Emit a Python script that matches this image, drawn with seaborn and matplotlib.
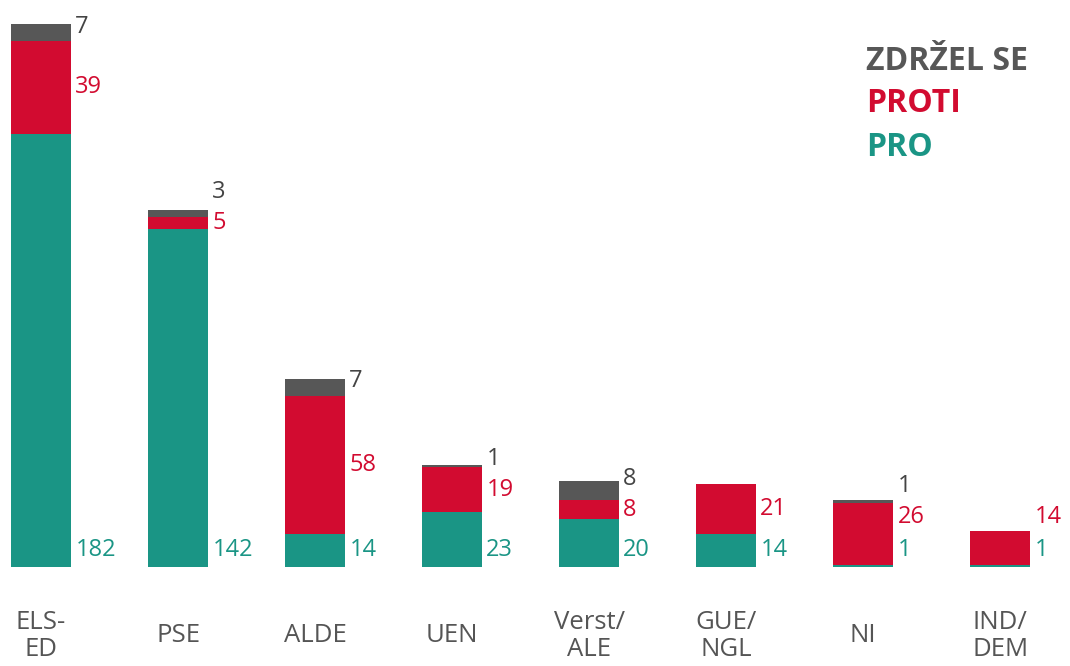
import matplotlib
matplotlib.use("Agg")
import matplotlib.pyplot as plt
import matplotlib.transforms as mtransforms
import numpy as np
import pandas as pd
import seaborn as sns

# data
groups = ["ELS-\nED", "PSE", "ALDE", "UEN", "Verst/\nALE", "GUE/\nNGL", "NI", "IND/\nDEM"]
pro = [182, 142, 14, 23, 20, 14, 1, 1]
proti = [39, 5, 58, 19, 8, 21, 26, 14]
zdrzel = [7, 3, 7, 1, 8, 0, 1, 0]

TEAL = "#1a9585"
RED = "#d20b30"
GRAY = "#575757"

sns.set_theme(style="white")
plt.rcParams["font.family"] = ["Open Sans", "DejaVu Sans"]

df = pd.DataFrame({"group": groups, "pro": pro, "proti": proti, "zdrzel": zdrzel})
df["pro_proti"] = df["pro"] + df["proti"]
df["total"] = df["pro_proti"] + df["zdrzel"]

fig = plt.figure(figsize=(10.7, 6.66), dpi=100)
ax = fig.add_axes([0, 99 / 666, 1, 567 / 666])

# stacked bars drawn as overlapping cumulative totals
for col, color in [("total", GRAY), ("pro_proti", RED), ("pro", TEAL)]:
    sns.barplot(data=df, x="group", y=col, color=color, width=0.44,
                saturation=1, ax=ax, linewidth=0)

ax.set_xlim(-0.3, 7.51)
ax.set_ylim(0, 238.2)
sns.despine(ax=ax, left=True, bottom=True)
ax.set_xlabel("")
ax.set_ylabel("")
ax.set_yticks([])
ax.tick_params(axis="x", length=0, pad=0)
ax.set_xticks(range(len(groups)))
ax.set_xticklabels([])

# category labels below bars
trans = mtransforms.blended_transform_factory(ax.transData, fig.transFigure)
for i, g in enumerate(groups):
    ax.text(i, 1 - 636 / 666, g, transform=trans, ha="center", va="center",
            fontsize=18.5, color="#555555", linespacing=1.15)

# value labels to the right of each bar
fs = 17
for i, row in df.iterrows():
    x = i + 0.25
    y_pro = 7
    ax.text(x, y_pro, str(row["pro"]), color=TEAL, fontsize=fs, va="center", ha="left")
    y_proti = max(row["pro"] + row["proti"] / 2, y_pro + 14)
    ax.text(x, y_proti, str(row["proti"]), color=RED, fontsize=fs, va="center", ha="left")
    if row["zdrzel"] > 0:
        y_z = max(row["total"] - 1, y_proti + 13)
        ax.text(x, y_z, str(row["zdrzel"]), color="#444444", fontsize=fs, va="center", ha="left")

# legend as coloured words
for txt, color, ypx in [("ZDRŽEL SE", GRAY, 62), ("PROTI", RED, 104), ("PRO", TEAL, 147)]:
    fig.text(866 / 1070, 1 - ypx / 666, txt, color=color, fontsize=23,
             fontweight="bold", ha="left", va="center")

fig.savefig("out.png", dpi=100)
